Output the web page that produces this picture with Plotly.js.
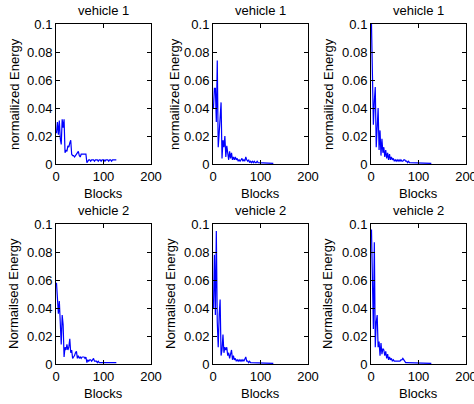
<!DOCTYPE html>
<html>
<head>
<meta charset="utf-8">
<script src="https://cdn.plot.ly/plotly-3.0.1.min.js"></script>
<style>html,body{margin:0;padding:0;background:#fff;}#chart{width:474px;height:404px;}</style>
</head>
<body>
<div id="chart"></div>
<script>
// Block index (every 2nd block, 1..127)
var blocks = [];
for (var b = 1; b <= 127; b += 2) blocks.push(b);

var titles = ["vehicle 1", "vehicle 1", "vehicle 1", "vehicle 2", "vehicle 2", "vehicle 2"];
var yTitles = ["normailized Energy", "normailized Energy", "normailized Energy",
               "Normailsed Energy", "Normailsed Energy", "Normailsed Energy"];
var xTitle = "Blocks";
var xTickVals = [0, 100, 200];
var xTickText = ["0", "100", "200"];
var yTickVals = [0, 0.02, 0.04, 0.06, 0.08, 0.1];
var yTickText = ["0", "0.02", "0.04", "0.06", "0.08", "0.1"];

var v1a = [0.022,0.030,0.021,0.031,0.018,0.014,0.032,0.026,0.032,0.008,0.010,0.009,0.013,0.012,0.015,0.017,
           0.007,0.006,0.006,0.005,0.006,0.007,0.008,0.009,0.006,0.005,0.007,0.007,0.007,0.007,0.007,0.007,
           0.001,0.002,0.003,0.003,0.002,0.003,0.003,0.003,0.002,0.003,0.003,0.003,0.002,0.003,0.003,0.002,
           0.003,0.003,0.003,0.002,0.003,0.003,0.003,0.002,0.003,0.003,0.002,0.003,0.003,0.003,0.003,0.003];
var v1b = [0.040,0.054,0.054,0.030,0.074,0.012,0.022,0.030,0.044,0.004,0.017,0.012,0.020,0.005,0.013,0.008,
           0.003,0.009,0.004,0.008,0.003,0.005,0.003,0.005,0.003,0.004,0.002,0.003,0.002,0.003,0.004,0.002,
           0.003,0.002,0.005,0.003,0.002,0.003,0.001,0.002,0.001,0.002,0.001,0.002,0.001,0.001,0.002,0.001,
           0.001,0.001,0.001,0.0005,0.001,0.0005,0.001,0.0005,0.001,0.0005,0.001,0.0005,0.001,0.0005,0.001,0.0005];
var v1c = [0.100,0.060,0.028,0.045,0.055,0.012,0.030,0.040,0.010,0.024,0.006,0.018,0.008,0.012,0.005,0.010,
           0.004,0.008,0.003,0.007,0.003,0.005,0.003,0.004,0.002,0.003,0.002,0.003,0.002,0.003,0.002,0.003,
           0.002,0.002,0.003,0.003,0.002,0.002,0.001,0.002,0.001,0.001,0.001,0.0005,0.001,0.001,0.0005,0.001,
           0.001,0.0005,0.001,0.0005,0.001,0.0005,0.001,0.0005,0.001,0.0005,0.001,0.0005,0.001,0.0005,0.001,0.0005];
var v2a = [0.058,0.045,0.036,0.045,0.030,0.014,0.035,0.028,0.005,0.012,0.010,0.014,0.010,0.012,0.018,0.008,
           0.010,0.004,0.005,0.006,0.008,0.009,0.004,0.006,0.004,0.005,0.004,0.005,0.005,0.005,0.004,0.005,
           0.001,0.003,0.002,0.003,0.003,0.002,0.003,0.004,0.002,0.002,0.002,0.001,0.002,0.001,0.001,0.001,
           0.001,0.001,0.0005,0.001,0.001,0.0005,0.001,0.001,0.0005,0.001,0.001,0.0005,0.001,0.001,0.0005,0.001];
var v2b = [0.040,0.078,0.035,0.095,0.030,0.012,0.035,0.046,0.006,0.010,0.021,0.008,0.012,0.010,0.012,0.006,
           0.008,0.004,0.007,0.010,0.003,0.006,0.003,0.004,0.002,0.003,0.002,0.003,0.002,0.003,0.002,0.003,
           0.002,0.004,0.005,0.002,0.002,0.001,0.002,0.001,0.001,0.0005,0.001,0.001,0.0005,0.001,0.0005,0.001,
           0.001,0.0005,0.001,0.0005,0.001,0.0005,0.001,0.0005,0.001,0.0005,0.001,0.0005,0.001,0.0005,0.001,0.0005];
var v2c = [0.096,0.050,0.025,0.087,0.012,0.030,0.035,0.012,0.016,0.006,0.015,0.007,0.011,0.010,0.006,0.009,
           0.004,0.007,0.003,0.005,0.003,0.004,0.002,0.003,0.002,0.002,0.002,0.002,0.002,0.002,0.002,0.003,
           0.003,0.004,0.003,0.002,0.001,0.001,0.001,0.0005,0.001,0.001,0.0005,0.001,0.0005,0.001,0.0005,0.001,
           0.001,0.0005,0.001,0.0005,0.001,0.0005,0.001,0.0005,0.001,0.0005,0.001,0.0005,0.001,0.0005,0.001,0.0005];

var series = [v1a, v1b, v1c, v2a, v2b, v2c];

var W = 474, H = 404;
var colLeft = [56, 213, 371], plotW = 95;
var rowTop = [24, 224], plotH = 140;
var yTitleX = [[14, 174, 328], [13, 170, 327]];
var FONT = "Liberation Sans, Arial, Helvetica, sans-serif";

var data = [], annotations = [];
var layout = {
  width: W, height: H,
  margin: {l: 0, r: 0, t: 0, b: 0},
  paper_bgcolor: "#fff", plot_bgcolor: "#fff",
  showlegend: false,
  font: {family: FONT, size: 13, color: "#000"}
};

for (var i = 0; i < 6; i++) {
  var r = Math.floor(i / 3), c = i % 3;
  var n = i === 0 ? "" : String(i + 1);
  var x0 = colLeft[c], y0 = rowTop[r];
  data.push({
    x: blocks, y: series[i], type: "scatter", mode: "lines",
    line: {color: "#0000ff", width: 1.2},
    xaxis: "x" + n, yaxis: "y" + n, hoverinfo: "skip"
  });
  var common = {
    showline: true, linecolor: "#000", linewidth: 1, mirror: "ticks",
    ticks: "inside", ticklen: 4, tickcolor: "#000", tickwidth: 1,
    showgrid: false, zeroline: false, fixedrange: true,
    ticklabeloverflow: "allow",
    tickfont: {size: 13, family: FONT, color: "#000"}
  };
  layout["xaxis" + n] = Object.assign({}, common, {
    domain: [x0 / W, (x0 + plotW) / W], range: [0, 200],
    tickmode: "array", tickvals: xTickVals, ticktext: xTickText,
    anchor: "y" + n
  });
  layout["yaxis" + n] = Object.assign({}, common, {
    domain: [1 - (y0 + plotH) / H, 1 - y0 / H], range: [0, 0.1],
    tickmode: "array", tickvals: yTickVals, ticktext: yTickText,
    anchor: "x" + n
  });
  annotations.push({
    text: titles[i], xref: "paper", yref: "paper",
    x: (x0 + plotW / 2) / W, y: 1 - (y0 - 14) / H,
    xanchor: "center", yanchor: "middle", showarrow: false,
    font: {size: 13, color: "#000"}
  });
  annotations.push({
    text: xTitle, xref: "paper", yref: "paper",
    x: (x0 + plotW / 2) / W, y: 1 - (y0 + plotH + 29) / H,
    xanchor: "center", yanchor: "middle", showarrow: false,
    font: {size: 13, color: "#000"}
  });
  annotations.push({
    text: yTitles[i], xref: "paper", yref: "paper",
    x: yTitleX[r][c] / W, y: 1 - (y0 + plotH / 2) / H,
    xanchor: "center", yanchor: "middle", showarrow: false, textangle: -90,
    font: {size: 13, color: "#000"}
  });
}
layout.annotations = annotations;

Plotly.newPlot("chart", data, layout, {displayModeBar: false, staticPlot: true});
</script>
</body>
</html>
